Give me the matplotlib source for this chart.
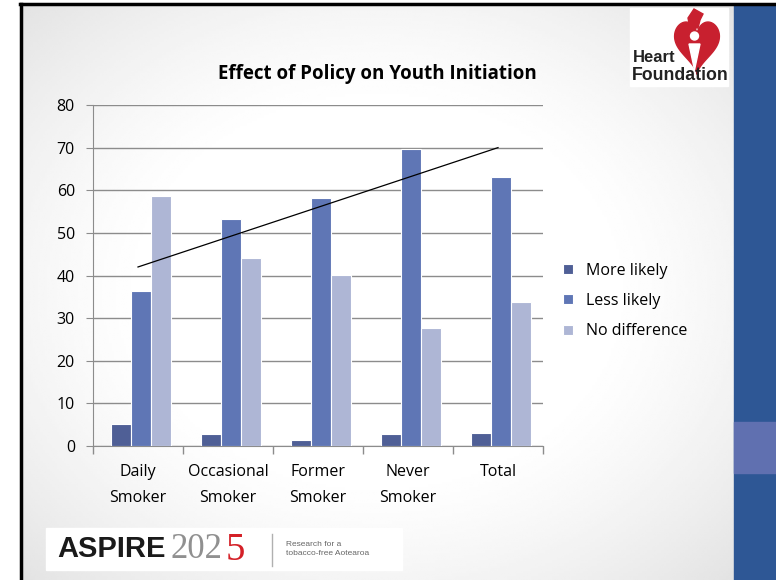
import matplotlib.pyplot as plt
import numpy as np
from matplotlib.patches import Rectangle, Polygon, Circle

categories = ['Daily\nSmoker', 'Occasional\nSmoker', 'Former\nSmoker', 'Never\nSmoker', 'Total']
more_likely = [5.2, 2.7, 1.5, 2.7, 3.0]
less_likely = [36.3, 53.3, 58.1, 69.6, 63.2]
no_difference = [58.6, 44.0, 40.2, 27.6, 33.9]
trend_x = [0, 4]
trend_y = [42, 70]

series = [('More likely', more_likely, '#4F5F96'),
          ('Less likely', less_likely, '#5F76B5'),
          ('No difference', no_difference, '#AEB6D5')]

W, H = 776, 580
fig = plt.figure(figsize=(W / 100, H / 100), dpi=100)
plt.rcParams['font.family'] = ['Open Sans', 'DejaVu Sans']

# slide background with a soft vignette
bg = fig.add_axes([0, 0, 1, 1])
bg.set_xlim(0, W)
bg.set_ylim(H, 0)
bg.axis('off')
gx, gy = np.meshgrid(np.linspace(-1, 1, 300), np.linspace(-1, 1, 220))
r = np.sqrt(gx ** 2 + gy ** 2) / np.sqrt(2)
grad = 1 - 0.11 * np.clip((r - 0.45) / 0.55, 0, 1) ** 1.3
bg.imshow(grad, cmap='gray', vmin=0, vmax=1, extent=[20, 734, H, 4], aspect='auto',
          interpolation='bilinear')
bg.add_patch(Rectangle((0, 0), 20, H, color='white'))
bg.plot([20, W], [4, 4], color='black', lw=2.5)
bg.plot([20.5, 20.5], [4, H], color='black', lw=2.5)
bg.add_patch(Rectangle((734, 5), 42, H, color='#2E5795'))
bg.add_patch(Rectangle((734, 422), 42, 51, color='#6070B0'))

# Heart Foundation logo
red = '#C8202F'
bg.add_patch(Rectangle((630, 8), 98, 78, color='white'))
t = np.linspace(0, 2 * np.pi, 200)
hx = 16 * np.sin(t) ** 3
hy = 13 * np.cos(t) - 5 * np.cos(2 * t) - 2 * np.cos(3 * t) - np.cos(4 * t)
bg.add_patch(Polygon(np.column_stack([697 + hx * 1.4, 43.5 - hy * 1.8]), color=red))
bg.add_patch(Polygon([(690, 28), (688, 18), (694, 9), (703, 14), (700, 20), (698, 28)],
                     color=red))
bg.add_patch(Circle((694.5, 36), 4, color='white'))
bg.add_patch(Polygon([(689, 44), (700, 44), (694.5, 70)], color='white'))
bg.text(633, 57, 'Heart', fontsize=12, fontweight='bold', color='#222222', va='center',
        family='Liberation Sans')
bg.text(632, 76, 'Foundation', fontsize=12.8, fontweight='bold', color='#222222', va='center',
        family='Liberation Sans')

# ASPIRE2025 logo
bg.add_patch(Rectangle((46, 528), 356, 42, color='white'))
bg.text(57, 549, 'ASPIRE', fontsize=21, fontweight='bold', color='#1a1a1a', va='center',
        family='Liberation Sans')
bg.text(171, 550, '202', fontsize=25, color='#909090', va='center', family='Liberation Serif')
bg.text(226, 551, '5', fontsize=28, color='#D42027', va='center', family='Liberation Serif')
bg.plot([272, 272], [534, 566], color='#b0b0b0', lw=1)
bg.text(286, 549, 'Research for a\ntobacco-free Aotearoa', fontsize=6, color='#666666',
        va='center', linespacing=1.3, family='Liberation Sans')

# chart
ax = fig.add_axes([93 / W, 1 - 446 / H, 450 / W, 341 / H])
ax.patch.set_alpha(0)
x = np.arange(len(categories))
for i, (name, vals, col) in enumerate(series):
    ax.bar(x + 0.03 + (i - 1) * 0.222, vals, width=0.22, color=col, edgecolor='white',
           linewidth=0.8, label=name, zorder=3)
ax.plot(trend_x, trend_y, color='black', lw=0.9, zorder=4)

ax.set_xlim(-0.5, len(categories) - 0.5)
ax.set_ylim(0, 80)
ax.set_yticks(range(0, 81, 10))
ax.yaxis.grid(True, color='#8c8c8c', lw=1, zorder=0)
ax.set_xticks(x)
ax.set_xticklabels(categories, fontsize=11.5, linespacing=1.8)
ax.set_xticks(np.arange(-0.5, len(categories)), minor=True)
ax.tick_params(axis='x', which='major', length=0, pad=13)
ax.tick_params(axis='x', which='minor', length=6, color='#8c8c8c', width=1)
ax.tick_params(axis='y', length=5, color='#8c8c8c', labelsize=11.5, pad=8)
for s in ['top', 'right']:
    ax.spines[s].set_visible(False)
for s in ['left', 'bottom']:
    ax.spines[s].set_color('#8c8c8c')

fig.text(377 / W, 1 - 74 / H, 'Effect of Policy on Youth Initiation', fontsize=13.5,
         fontweight='bold', ha='center', va='center')

ax.legend(loc='center left', bbox_to_anchor=(555 / W, 1 - 301 / H),
          bbox_transform=fig.transFigure, frameon=False, borderpad=0,
          fontsize=11.5, handlelength=0.6, handleheight=0.6, handletextpad=0.85,
          labelspacing=0.9)

fig.savefig('out.png', dpi=100)
